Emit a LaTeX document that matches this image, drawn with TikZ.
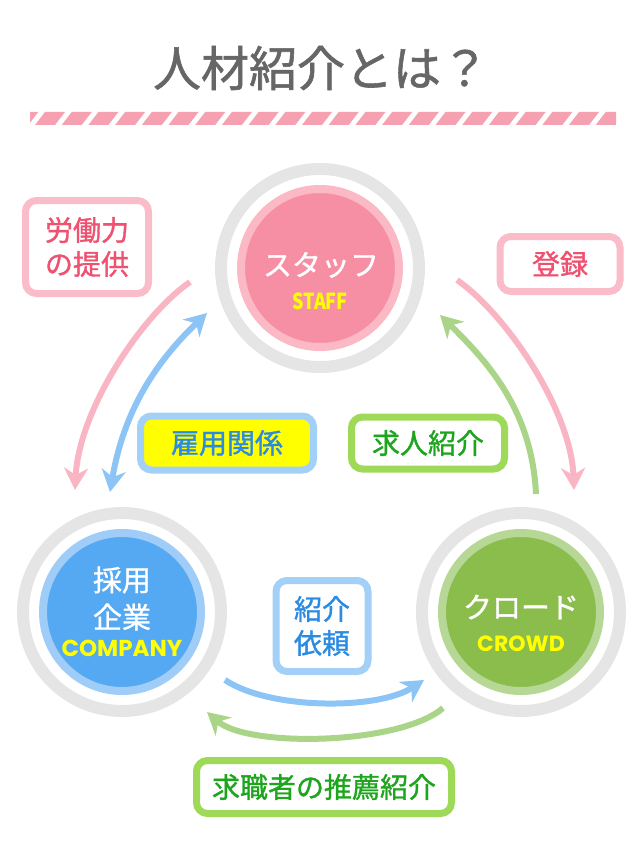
\documentclass[tikz,border=0pt]{standalone}
\usepackage{fontspec}
\setmainfont{Noto Sans CJK JP}
\newfontfamily\enfont{Poppins}
\newfontfamily\jpheavy{Noto Sans CJK JP}[FakeBold=1.2]
\newfontfamily\jpnarrow{Noto Sans CJK JP}[FakeStretch=0.82]
\usetikzlibrary{arrows.meta}

\definecolor{titlegray}{HTML}{666666}
\definecolor{stripepink}{HTML}{F5A1B2}
\definecolor{ringgray}{HTML}{E5E5E5}
\definecolor{staffring}{HTML}{FBB9C6}
\definecolor{stafffill}{HTML}{F78FA4}
\definecolor{compring}{HTML}{9FCDF7}
\definecolor{compfill}{HTML}{55A9F2}
\definecolor{crowdring}{HTML}{B6D795}
\definecolor{crowdfill}{HTML}{8ABD4B}
\definecolor{pinkarrow}{HTML}{F9B5C3}
\definecolor{bluearrow}{HTML}{8CC5F5}
\definecolor{greenarrow}{HTML}{AAD487}
\definecolor{pinkline}{HTML}{FBBCCA}
\definecolor{pinktext}{HTML}{EF5170}
\definecolor{blueline}{HTML}{A2D0F7}
\definecolor{bluetext}{HTML}{2B8BE3}
\definecolor{greenline}{HTML}{9ED957}
\definecolor{greentext}{HTML}{1EA51E}
\definecolor{tagyellow}{HTML}{FFFF00}

\tikzset{
  bigtip/.tip={Stealth[length=22pt,width=24pt,inset=7pt]},
  ring/.style={circle, draw=ringgray, line width=12pt, minimum size=198pt, inner sep=0pt},
  disc/.style={circle, line width=8pt, minimum size=158pt, inner sep=0pt},
  jplabel/.style={text=white, font=\jpheavy\fontsize{29}{29}\selectfont},
  enlabel/.style={text=tagyellow, font=\enfont\bfseries\fontsize{22}{22}\selectfont},
  tag/.style={rounded corners=11pt, line width=7pt, fill=white, inner sep=0pt,
    align=center, font=\jpheavy\fontsize{28}{34}\selectfont},
  flow/.style={line width=6pt, -bigtip},
  twoway/.style={line width=6pt, bigtip-bigtip},
}

\begin{document}
\begin{tikzpicture}[x=1pt, y=-1pt]
	\useasboundingbox (0,0) rectangle (640,853);
	% title
	\node[text=titlegray, font=\jpheavy\fontsize{48}{48}\selectfont] (title) at (321,68) {人材紹介とは？};
	% stripe
	\begin{scope}
		\clip (30,112) rectangle (616,125);
		\foreach \i in {-1,...,22}
			\fill[stripepink] ({35+26.7*\i},125) -- ({55+26.7*\i},125) -- ({65+26.7*\i},112) -- ({45+26.7*\i},112) -- cycle;
	\end{scope}
	
	% circles
	\node[ring] (staffring) at (320,268) {};
	\node[disc, draw=staffring, fill=stafffill] (staff) at (320,268) {};
	\node[jplabel] (staffjp) at (321,265) {スタッフ};
	\node[text=tagyellow, font=\jpnarrow\bfseries\fontsize{22}{22}\selectfont] (staffen) at (320,301) {STAFF};
	
	\node[ring] (compring) at (122,612) {};
	\node[disc, draw=compring, fill=compfill] (comp) at (122,612) {};
	\node[jplabel] (compjpa) at (122,580) {採用};
	\node[jplabel] (compjpb) at (122,617) {企業};
	\node[enlabel, font=\enfont\bfseries\fontsize{23}{23}\selectfont] (compen) at (122,648) {COMPANY};
	
	\node[ring] (crowdring) at (521,612) {};
	\node[disc, draw=crowdring, fill=crowdfill] (crowd) at (521,612) {};
	\node[jplabel] (crowdjp) at (521,607) {クロード};
	\node[enlabel] (crowden) at (521,644) {CROWD};
	
	% labels
	\node[tag, draw=pinkline, text=pinktext, minimum width=123pt, minimum height=93pt] (labour) at (87,247) {労働力\\の提供};
	\node[tag, draw=pinkline, text=pinktext, minimum width=120pt, minimum height=55pt] (entry) at (560,264) {登録};
	\node[tag, draw=blueline, fill=tagyellow, text=bluetext, minimum width=173pt, minimum height=54pt] (employ) at (227,443) {雇用関係};
	\node[tag, draw=greenline, text=greentext, minimum width=153pt, minimum height=52pt] (jobs) at (428,443) {求人紹介};
	\node[tag, draw=blueline, text=bluetext, minimum width=92pt, minimum height=91pt] (request) at (322,626) {紹介\\依頼};
	\node[tag, draw=greenline, text=greentext, minimum width=255pt, minimum height=53pt] (recommend) at (324,787) {求職者の推薦紹介};
	
	% arrow ends
	\coordinate (lab-s) at (190,282);
	\coordinate (lab-e) at (75,490);
	\coordinate (emp-a) at (110,492);
	\coordinate (emp-b) at (207,313);
	\coordinate (job-s) at (536,494);
	\coordinate (job-e) at (440,315);
	\coordinate (ent-s) at (457,280);
	\coordinate (ent-e) at (574,490);
	\coordinate (req-s) at (225,680);
	\coordinate (req-e) at (424,680);
	\coordinate (rec-s) at (443,708);
	\coordinate (rec-e) at (207,712);
	
	% arrows
	\draw[flow, pinkarrow] (lab-s) .. controls (141,316) and (79,410) .. (lab-e);
	\draw[twoway, bluearrow] (emp-a) .. controls (124,410) and (156,362) .. (emp-b);
	\draw[flow, greenarrow] (job-s) .. controls (532,412) and (490,364) .. (job-e);
	\draw[flow, pinkarrow] (ent-s) .. controls (506,314) and (571,410) .. (ent-e);
	\draw[flow, bluearrow] (req-s) .. controls (270,710) and (378,710) .. (req-e);
	\draw[flow, greenarrow] (rec-s) .. controls (400,745) and (248,748) .. (rec-e);
\end{tikzpicture}
\end{document}
